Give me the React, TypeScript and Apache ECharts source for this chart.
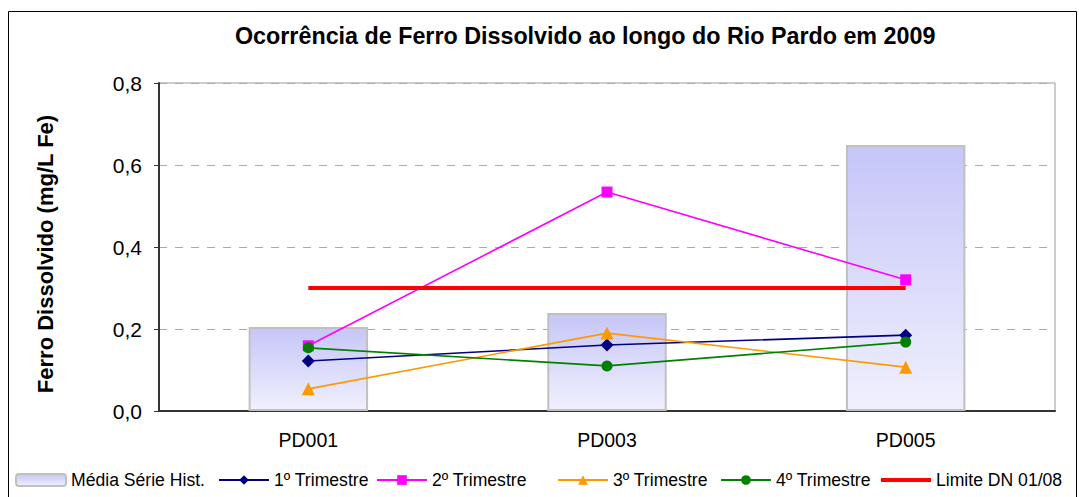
import React, { useEffect, useRef } from "react";
import * as echarts from "echarts";

const categories = ["PD001", "PD003", "PD005"];
const mediaHist = [0.205, 0.239, 0.649];
const tri1 = [0.122, 0.161, 0.185];
const tri2 = [0.159, 0.534, 0.32];
const tri3 = [0.054, 0.19, 0.107];
const tri4 = [0.154, 0.11, 0.168];
const limite = [0.3, 0.3, 0.3];

const FONT = "'Liberation Sans', Arial, sans-serif";

export default function App() {
  const ref = useRef<HTMLDivElement>(null);
  useEffect(() => {
    document.body.style.margin = "0";
    const chart = echarts.init(ref.current!, null, { renderer: "svg" });
    const legendBase = {
      top: 471,
      itemWidth: 50,
      itemHeight: 12,
      itemGap: 0,
      padding: 0,
      textStyle: { fontSize: 17.6, color: "#000", fontFamily: FONT },
    };
    const lineSeries = (name: string, data: number[], color: string, symbol: string, size: number) => ({
      name,
      type: "line",
      data,
      symbol,
      symbolSize: size,
      itemStyle: { color },
      lineStyle: { color, width: 1.6 },
      z: 3,
    });
    chart.setOption({
      animation: false,
      backgroundColor: "#fff",
      title: {
        text: "Ocorrência de Ferro Dissolvido ao longo do Rio Pardo em 2009",
        left: 230,
        top: 19,
        textStyle: { fontSize: 23.3, fontWeight: "bold", color: "#000", fontFamily: FONT },
      },
      graphic: [
        {
          type: "rect",
          shape: { x: 8.5, y: 11.5, width: 1068, height: 500 },
          style: { fill: "none", stroke: "#000", lineWidth: 1 },
          silent: true,
        },
        {
          type: "text",
          x: 45,
          y: 254,
          rotation: Math.PI / 2,
          style: {
            text: "Ferro Dissolvido (mg/L Fe)",
            fontSize: 22,
            fontWeight: "bold",
            fontFamily: FONT,
            fill: "#000",
            align: "center",
            verticalAlign: "middle",
          },
        },
      ],
      legend: [
        { ...legendBase, left: 15, data: ["Média Série Hist."] },
        { ...legendBase, left: 218, data: ["1º Trimestre"] },
        { ...legendBase, left: 376, data: ["2º Trimestre"] },
        { ...legendBase, left: 557, data: ["3º Trimestre"] },
        { ...legendBase, left: 720, data: ["4º Trimestre"] },
        {
          ...legendBase,
          left: 881,
          itemHeight: 4,
          data: [{ name: "Limite DN 01/08", icon: "rect" }],
        },
      ],
      grid: {
        left: 159,
        top: 83,
        right: 24,
        bottom: 86,
        show: true,
        borderColor: "#999",
        borderWidth: 1,
      },
      xAxis: {
        type: "category",
        data: categories,
        axisLine: { lineStyle: { color: "#333", width: 2 } },
        axisTick: { show: false },
        axisLabel: { fontSize: 19.5, color: "#000", fontFamily: FONT, margin: 19 },
      },
      yAxis: {
        type: "value",
        min: 0,
        max: 0.8,
        interval: 0.2,
        axisLine: { show: true, lineStyle: { color: "#333", width: 2 } },
        axisTick: { show: true, length: 5, lineStyle: { color: "#333" } },
        axisLabel: {
          fontSize: 21,
          color: "#000",
          fontFamily: FONT,
          margin: 17,
          formatter: (v: number) => v.toFixed(1).replace(".", ","),
        },
        splitLine: { show: true, lineStyle: { color: "#aaa", type: [8, 8] } },
      },
      series: [
        {
          name: "Média Série Hist.",
          type: "bar",
          data: mediaHist,
          barWidth: "40%",
          itemStyle: {
            color: new echarts.graphic.LinearGradient(0, 0, 0, 1, [
              { offset: 0, color: "#c6c6f8" },
              { offset: 1, color: "#f0f0fd" },
            ]),
            borderColor: "#c0c0c0",
            borderWidth: 2,
          },
          z: 2,
        },
        lineSeries("1º Trimestre", tri1, "#000080", "diamond", 13),
        lineSeries("2º Trimestre", tri2, "#ff00ff", "rect", 11),
        lineSeries("3º Trimestre", tri3, "#ff9900", "triangle", 13),
        lineSeries("4º Trimestre", tri4, "#008000", "circle", 11),
        {
          name: "Limite DN 01/08",
          type: "line",
          data: limite,
          symbol: "none",
          itemStyle: { color: "#ff0000" },
          lineStyle: { color: "#ff0000", width: 4 },
          z: 3,
        },
      ],
    });
    return () => chart.dispose();
  }, []);
  return <div ref={ref} style={{ width: 1079, height: 497 }} />;
}
